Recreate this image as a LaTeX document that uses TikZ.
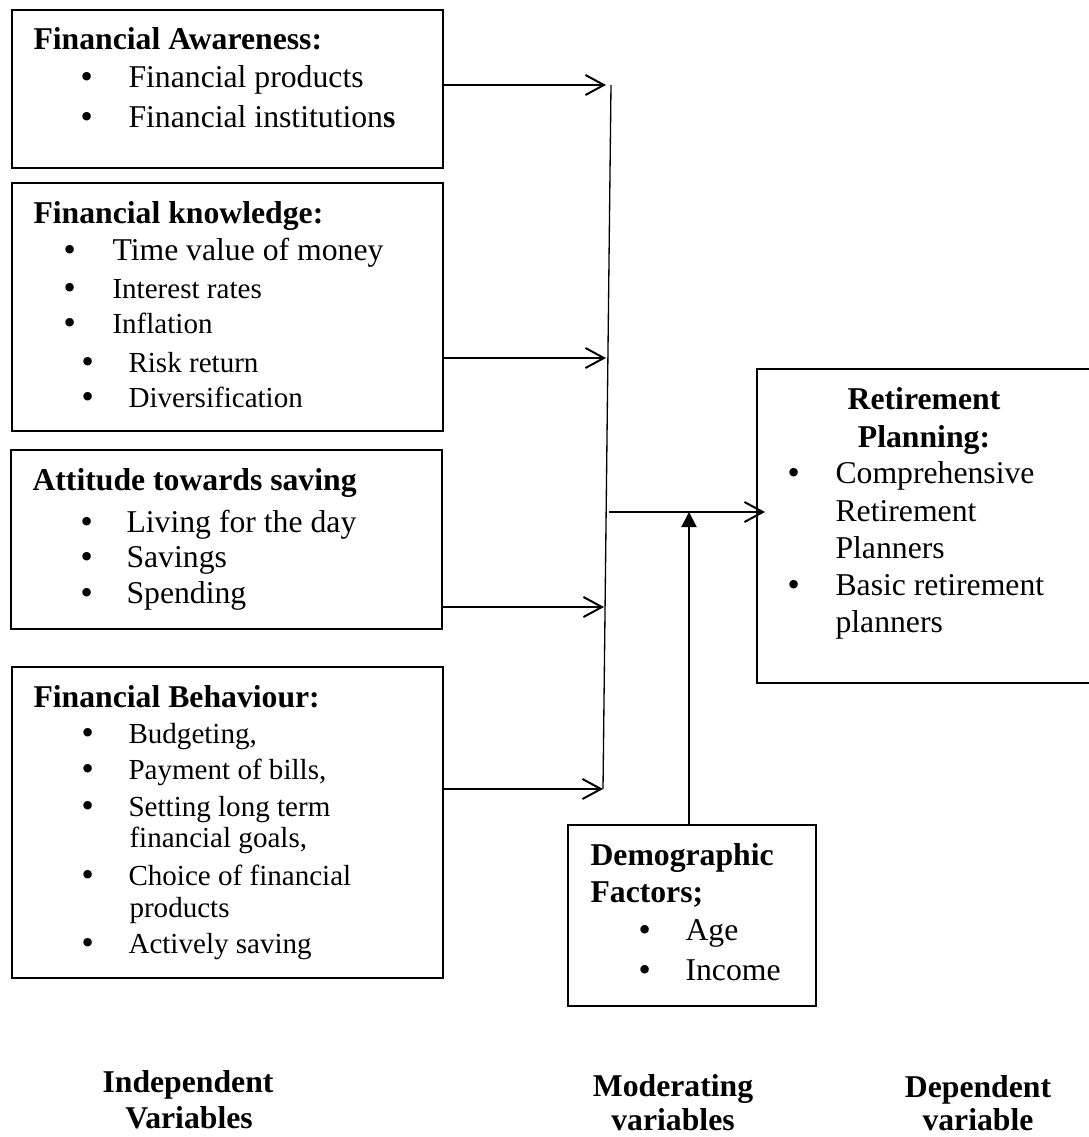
\documentclass[tikz,border=0pt]{standalone}
\usepackage{fontspec}
\setmainfont{Liberation Serif}
\newfontfamily\bulfont{DejaVu Sans}
\usetikzlibrary{arrows.meta,fit}
\begin{document}
\begin{tikzpicture}[x=0.3785pt,y=-0.3785pt,
  box/.style={draw,line width=0.75pt,inner sep=0pt},
  txt/.style={inner sep=0pt,font=\fontsize{12}{14}\selectfont},
  sml/.style={inner sep=0pt,font=\fontsize{11}{13}\selectfont},
  ttl/.style={inner sep=0pt,font=\fontsize{12}{14}\selectfont\bfseries},
  bul/.style={inner sep=0pt,anchor=base,font=\fontsize{11}{12}\bulfont},
  openarrow/.style={line width=0.75pt,-{Straight Barb[length=7pt,width=7.6pt,line width=0.75pt]}},
  fillarrow/.style={line width=0.75pt,-{Triangle[length=5.7pt,width=5.7pt]}},
  bar/.style={line width=0.5pt}]
\clip (0,0) rectangle (1089,1137);
% boxes
\node[box,fit={(12,10)(443,168)}] (b1) {};
\node[box,fit={(12,183)(443,431)}] (b2) {};
\node[box,fit={(11,450)(442,629)}] (b3) {};
\node[box,fit={(12,667)(443,978)}] (b4) {};
\node[box,fit={(757,369)(1095,683)}] (b5) {};
\node[box,fit={(568,825)(816,1006)}] (b6) {};
% box 1
\node[ttl,anchor=base west] (t1) at (33,50) {Financial Awareness:};
\node[bul] (t1p) at (87.5,88) {•};
\node[txt,anchor=base west] (t1a) at (128,88) {Financial products};
\node[bul] (t1q) at (87.5,127) {•};
\node[txt,anchor=base west] (t1b) at (128,127) {Financial institution\textbf{s}};
% box 2
\node[ttl,anchor=base west] (t2) at (33,223) {Financial knowledge:};
\node[bul] (t2p) at (70,260) {•};
\node[txt,anchor=base west] (t2a) at (112,260) {Time value of money};
\node[bul] (t2q) at (70,298) {•};
\node[sml,anchor=base west] (t2b) at (112,298) {Interest rates};
\node[bul] (t2r) at (70,333) {•};
\node[sml,anchor=base west] (t2c) at (112,333) {Inflation};
\node[bul] (t2s) at (88,372) {•};
\node[sml,anchor=base west] (t2d) at (128,372) {Risk return};
\node[bul] (t2t) at (88,407) {•};
\node[sml,anchor=base west] (t2e) at (128,407) {Diversification};
% box 3
\node[ttl,anchor=base west] (t3) at (32,490) {Attitude towards saving};
\node[bul] (t3p) at (87.5,532) {•};
\node[txt,anchor=base west] (t3a) at (126,532) {Living for the day};
\node[bul] (t3q) at (87.5,567) {•};
\node[txt,anchor=base west] (t3b) at (126,567) {Savings};
\node[bul] (t3r) at (87.5,603) {•};
\node[txt,anchor=base west] (t3c) at (126,603) {Spending};
% box 4
\node[ttl,anchor=base west] (t4) at (33,707) {Financial Behaviour:};
\node[bul] (t4p) at (88,743) {•};
\node[sml,anchor=base west] (t4a) at (128,743) {Budgeting,};
\node[bul] (t4q) at (88,779) {•};
\node[sml,anchor=base west] (t4b) at (128,779) {Payment of bills,};
\node[bul] (t4r) at (88,816) {•};
\node[sml,anchor=base west] (t4c) at (128,816) {Setting long term};
\node[sml,anchor=base west] (t4d) at (129,847) {financial goals,};
\node[bul] (t4s) at (88,885) {•};
\node[sml,anchor=base west] (t4e) at (128,885) {Choice of financial};
\node[sml,anchor=base west] (t4f) at (129,917) {products};
\node[bul] (t4t) at (88,953) {•};
\node[sml,anchor=base west] (t4g) at (128,953) {Actively saving};
% box 5
\node[ttl,anchor=base] (t5) at (924,409) {Retirement};
\node[ttl,anchor=base] (t5b) at (924,447) {Planning:};
\node[bul] (t5p) at (794,483) {•};
\node[txt,anchor=base west] (t5c) at (835,483) {Comprehensive};
\node[txt,anchor=base west] (t5d) at (835,521) {Retirement};
\node[txt,anchor=base west] (t5e) at (835,558) {Planners};
\node[bul] (t5q) at (794,595) {•};
\node[txt,anchor=base west] (t5f) at (835,595) {Basic retirement};
\node[txt,anchor=base west] (t5g) at (835,632) {planners};
% box 6
\node[ttl,anchor=base west] (t6) at (590,865) {Demographic};
\node[ttl,anchor=base west] (t6b) at (590,902) {Factors;};
\node[bul] (t6p) at (645,940) {•};
\node[txt,anchor=base west] (t6c) at (685,940) {Age};
\node[bul] (t6q) at (645,980) {•};
\node[txt,anchor=base west] (t6d) at (685,980) {Income};
% bottom labels
\node[ttl,anchor=base] (l1) at (188,1092) {Independent};
\node[ttl,anchor=base] (l1b) at (189,1128) {Variables};
\node[ttl,anchor=base] (l2) at (673,1096) {Moderating};
\node[ttl,anchor=base] (l2b) at (673,1130) {variables};
\node[ttl,anchor=base] (l3) at (978,1097) {Dependent};
\node[ttl,anchor=base] (l3b) at (978,1130) {variable};
% connectors
\coordinate (vtop) at (611,85);
\coordinate (vbot) at (603,789);
\coordinate (a1) at (606,85);
\coordinate (a2) at (606,358);
\coordinate (a3) at (604,607);
\coordinate (a4) at (603,789);
\coordinate (ms) at (609,512);
\coordinate (me) at (765,512);
\coordinate (mv) at (689,512);
\draw[bar] (vtop) -- (vbot);
\draw[openarrow] (b1.east |- a1) -- (a1);
\draw[openarrow] (b2.east |- a2) -- (a2);
\draw[openarrow] (b3.east |- a3) -- (a3);
\draw[openarrow] (b4.east |- a4) -- (a4);
\draw[openarrow] (ms) -- (me);
\draw[fillarrow] (b6.north -| mv) -- (mv);
\end{tikzpicture}
\end{document}
